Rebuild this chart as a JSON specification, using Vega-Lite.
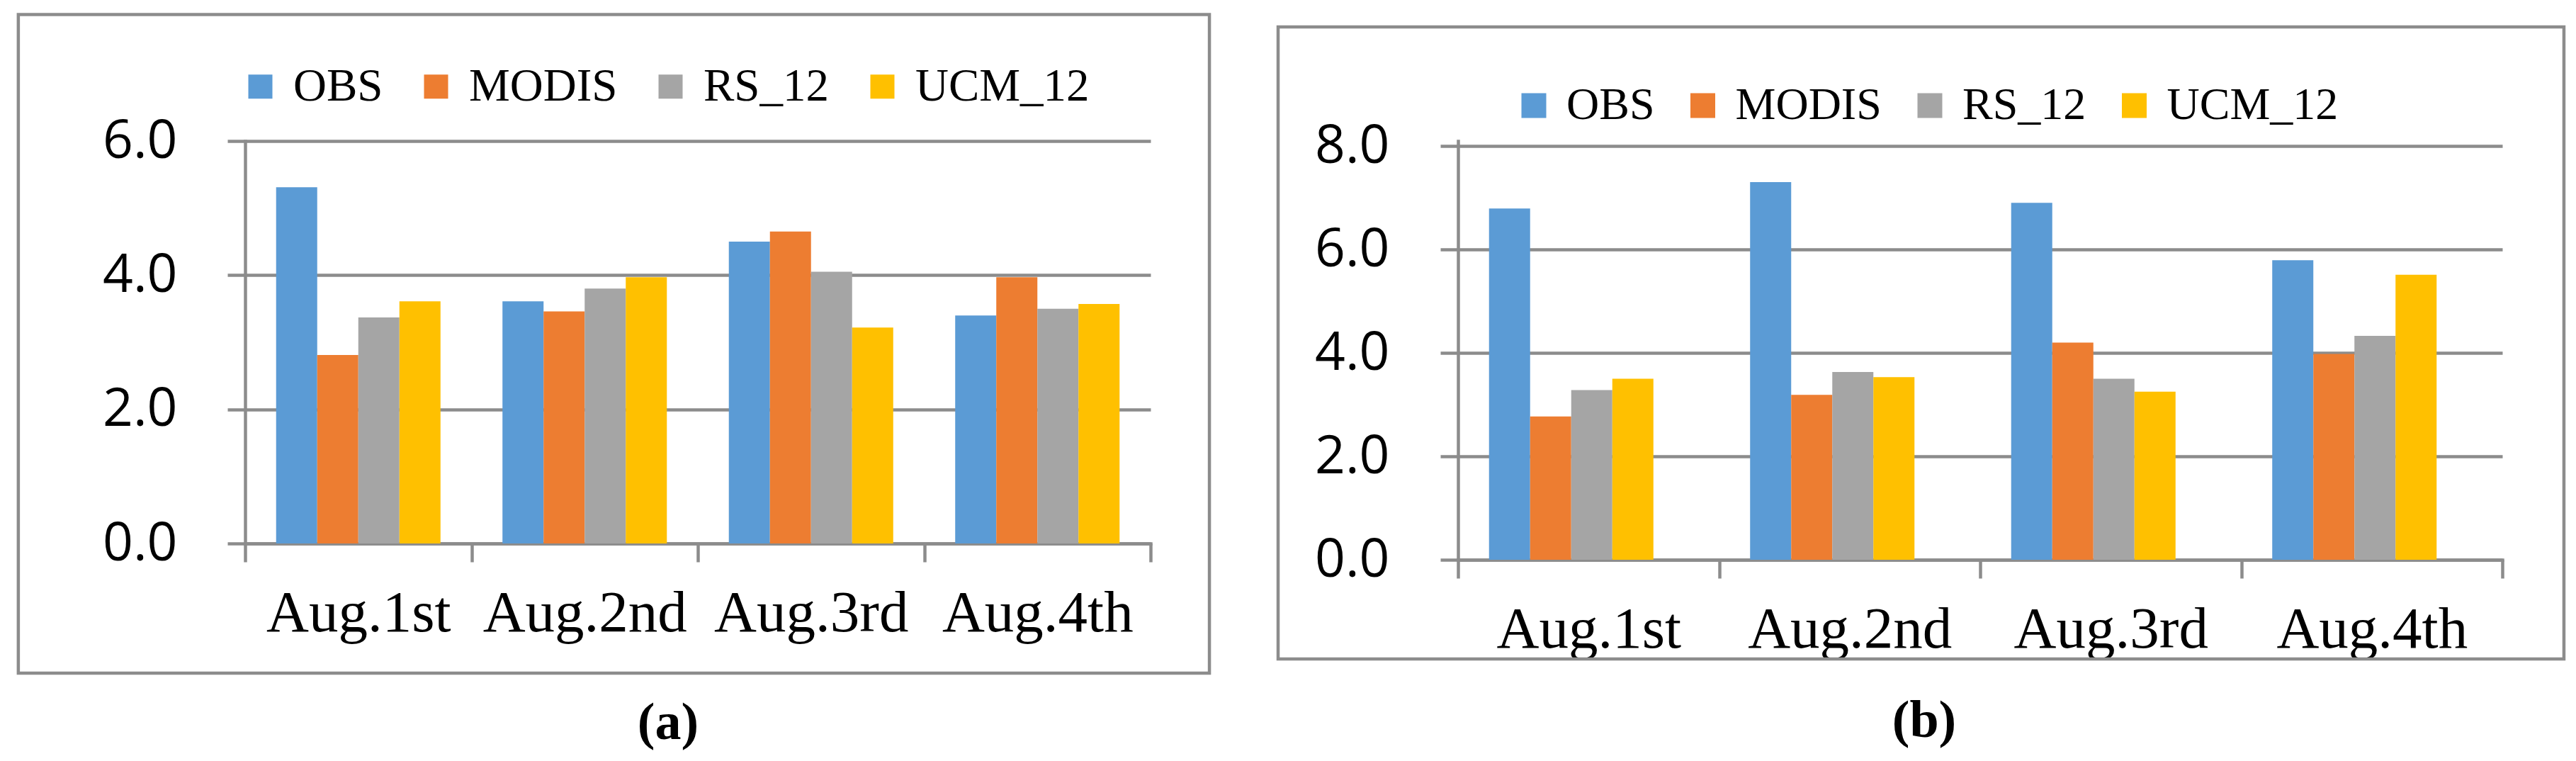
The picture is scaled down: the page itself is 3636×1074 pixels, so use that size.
{
  "$schema": "https://vega.github.io/schema/vega-lite/v6.json",
  "padding": {"left": 23, "top": 18, "right": 0, "bottom": 0},
  "background": "white",
  "datasets": {
    "a": [
      {"period": "Aug.1st", "series": "OBS", "value": 5.31},
      {"period": "Aug.1st", "series": "MODIS", "value": 2.81},
      {"period": "Aug.1st", "series": "RS_12", "value": 3.37},
      {"period": "Aug.1st", "series": "UCM_12", "value": 3.61},
      {"period": "Aug.2nd", "series": "OBS", "value": 3.61},
      {"period": "Aug.2nd", "series": "MODIS", "value": 3.46},
      {"period": "Aug.2nd", "series": "RS_12", "value": 3.80},
      {"period": "Aug.2nd", "series": "UCM_12", "value": 3.97},
      {"period": "Aug.3rd", "series": "OBS", "value": 4.50},
      {"period": "Aug.3rd", "series": "MODIS", "value": 4.65},
      {"period": "Aug.3rd", "series": "RS_12", "value": 4.05},
      {"period": "Aug.3rd", "series": "UCM_12", "value": 3.22},
      {"period": "Aug.4th", "series": "OBS", "value": 3.40},
      {"period": "Aug.4th", "series": "MODIS", "value": 3.97},
      {"period": "Aug.4th", "series": "RS_12", "value": 3.50},
      {"period": "Aug.4th", "series": "UCM_12", "value": 3.57}
    ],
    "b": [
      {"period": "Aug.1st", "series": "OBS", "value": 6.79},
      {"period": "Aug.1st", "series": "MODIS", "value": 2.77},
      {"period": "Aug.1st", "series": "RS_12", "value": 3.28},
      {"period": "Aug.1st", "series": "UCM_12", "value": 3.50},
      {"period": "Aug.2nd", "series": "OBS", "value": 7.30},
      {"period": "Aug.2nd", "series": "MODIS", "value": 3.19},
      {"period": "Aug.2nd", "series": "RS_12", "value": 3.63},
      {"period": "Aug.2nd", "series": "UCM_12", "value": 3.53},
      {"period": "Aug.3rd", "series": "OBS", "value": 6.90},
      {"period": "Aug.3rd", "series": "MODIS", "value": 4.20},
      {"period": "Aug.3rd", "series": "RS_12", "value": 3.50},
      {"period": "Aug.3rd", "series": "UCM_12", "value": 3.25},
      {"period": "Aug.4th", "series": "OBS", "value": 5.79},
      {"period": "Aug.4th", "series": "MODIS", "value": 3.98},
      {"period": "Aug.4th", "series": "RS_12", "value": 4.33},
      {"period": "Aug.4th", "series": "UCM_12", "value": 5.51}
    ]
  },
  "spacing": 434,
  "bounds": "flush",
  "resolve": {"scale": {"color": "independent"}, "legend": {"color": "independent"}},
  "hconcat": [
    {
      "width": 1278,
      "height": 568,
      "title": {"text": "(a)", "orient": "bottom", "anchor": "middle", "frame": "group", "dx": -42, "offset": 91, "font": "Liberation Serif", "fontSize": 74, "fontWeight": "bold", "color": "black", "baseline": "alphabetic"},
      "resolve": {"scale": {"x": "independent"}},
      "layer": [
        {
          "data": {"values": [{}]},
          "mark": {"type": "rect", "fill": null, "stroke": "#8c8c8c", "strokeWidth": 4.5, "clip": false},
          "encoding": {
            "x": {"datum": -0.2505, "type": "quantitative", "scale": {"domain": [0, 1], "nice": false, "zero": false}, "axis": null},
            "x2": {"datum": 1.065},
            "y": {"datum": -1.933, "type": "quantitative", "scale": {"domain": [0, 6], "nice": false}},
            "y2": {"datum": 7.885}
          }
        },
        {
          "data": {"name": "a"},
          "mark": {"type": "bar"},
          "encoding": {
            "x": {"field": "period", "type": "nominal", "sort": null, "scale": {"paddingInner": 0, "paddingOuter": 0},
              "axis": {"title": null, "labelAngle": 0, "tickBand": "extent", "labelFont": "Liberation Serif", "labelFontSize": 83, "labelColor": "black", "labelPadding": 31, "labelLimit": 0, "tickSize": 26, "grid": false}},
            "xOffset": {"field": "series", "type": "nominal", "sort": ["OBS", "MODIS", "RS_12", "UCM_12"], "scale": {"paddingInner": 0, "paddingOuter": 0.754}},
            "y": {"field": "value", "type": "quantitative", "scale": {"domain": [0, 6], "nice": false},
              "axis": {"title": null, "values": [0, 2, 4, 6], "format": ".1f", "grid": true, "tickSize": 25, "labelFont": "Open Sans", "labelFontSize": 75, "labelColor": "black", "labelPadding": 71}},
            "color": {"field": "series", "type": "nominal", "sort": ["OBS", "MODIS", "RS_12", "UCM_12"],
              "scale": {"domain": ["OBS", "MODIS", "RS_12", "UCM_12"], "range": ["#5B9BD5", "#ED7D31", "#A5A5A5", "#FFC000"]},
              "legend": {"orient": "none", "legendX": -11, "legendY": -109.5, "direction": "horizontal", "title": null, "symbolType": "square", "symbolSize": 1156, "symbolStrokeWidth": 0, "symbolOpacity": 1, "labelFont": "Liberation Serif", "labelFontSize": 65, "labelColor": "black", "labelOffset": 14, "columnPadding": 42, "padding": 0, "labelLimit": 0}}
          }
        }
      ]
    },
    {
      "width": 1474,
      "height": 591,
      "title": {"text": "(b)", "orient": "bottom", "anchor": "middle", "frame": "group", "dx": -79, "offset": 108, "font": "Liberation Serif", "fontSize": 74, "fontWeight": "bold", "color": "black", "baseline": "alphabetic"},
      "resolve": {"scale": {"x": "independent"}},
      "layer": [
        {
          "data": {"values": [{}]},
          "mark": {"type": "rect", "fill": null, "stroke": "#8c8c8c", "strokeWidth": 4.5, "clip": false},
          "encoding": {
            "x": {"datum": -0.1723, "type": "quantitative", "scale": {"domain": [0, 1], "nice": false, "zero": false}, "axis": null},
            "x2": {"datum": 1.059},
            "y": {"datum": -1.918, "type": "quantitative", "scale": {"domain": [0, 8.096], "nice": false}},
            "y2": {"datum": 10.30}
          }
        },
        {
          "data": {"name": "b"},
          "mark": {"type": "bar"},
          "encoding": {
            "x": {"field": "period", "type": "nominal", "sort": null, "scale": {"paddingInner": 0, "paddingOuter": 0},
              "axis": {"title": null, "labelAngle": 0, "tickBand": "extent", "labelFont": "Liberation Serif", "labelFontSize": 83, "labelColor": "black", "labelPadding": 31, "labelLimit": 0, "tickSize": 26, "grid": false}},
            "xOffset": {"field": "series", "type": "nominal", "sort": ["OBS", "MODIS", "RS_12", "UCM_12"], "scale": {"paddingInner": 0, "paddingOuter": 0.754}},
            "y": {"field": "value", "type": "quantitative", "scale": {"domain": [0, 8.096], "nice": false},
              "axis": {"title": null, "values": [0, 2, 4, 6, 8], "format": ".1f", "grid": true, "tickSize": 25, "labelFont": "Open Sans", "labelFontSize": 75, "labelColor": "black", "labelPadding": 72}},
            "color": {"field": "series", "type": "nominal", "sort": ["OBS", "MODIS", "RS_12", "UCM_12"],
              "scale": {"domain": ["OBS", "MODIS", "RS_12", "UCM_12"], "range": ["#5B9BD5", "#ED7D31", "#A5A5A5", "#FFC000"]},
              "legend": {"orient": "none", "legendX": 75, "legendY": -82, "direction": "horizontal", "title": null, "symbolType": "square", "symbolSize": 1225, "symbolStrokeWidth": 0, "symbolOpacity": 1, "labelFont": "Liberation Serif", "labelFontSize": 64, "labelColor": "black", "labelOffset": 14, "columnPadding": 35.5, "padding": 0, "labelLimit": 0}}
          }
        }
      ]
    }
  ],
  "config": {
    "view": {"stroke": null},
    "axis": {"domainColor": "#8c8c8c", "domainWidth": 4.5, "tickColor": "#8c8c8c", "tickWidth": 4.5, "gridColor": "#8c8c8c", "gridWidth": 4.3, "gridOpacity": 1, "domainCap": "square"}
  }
}
